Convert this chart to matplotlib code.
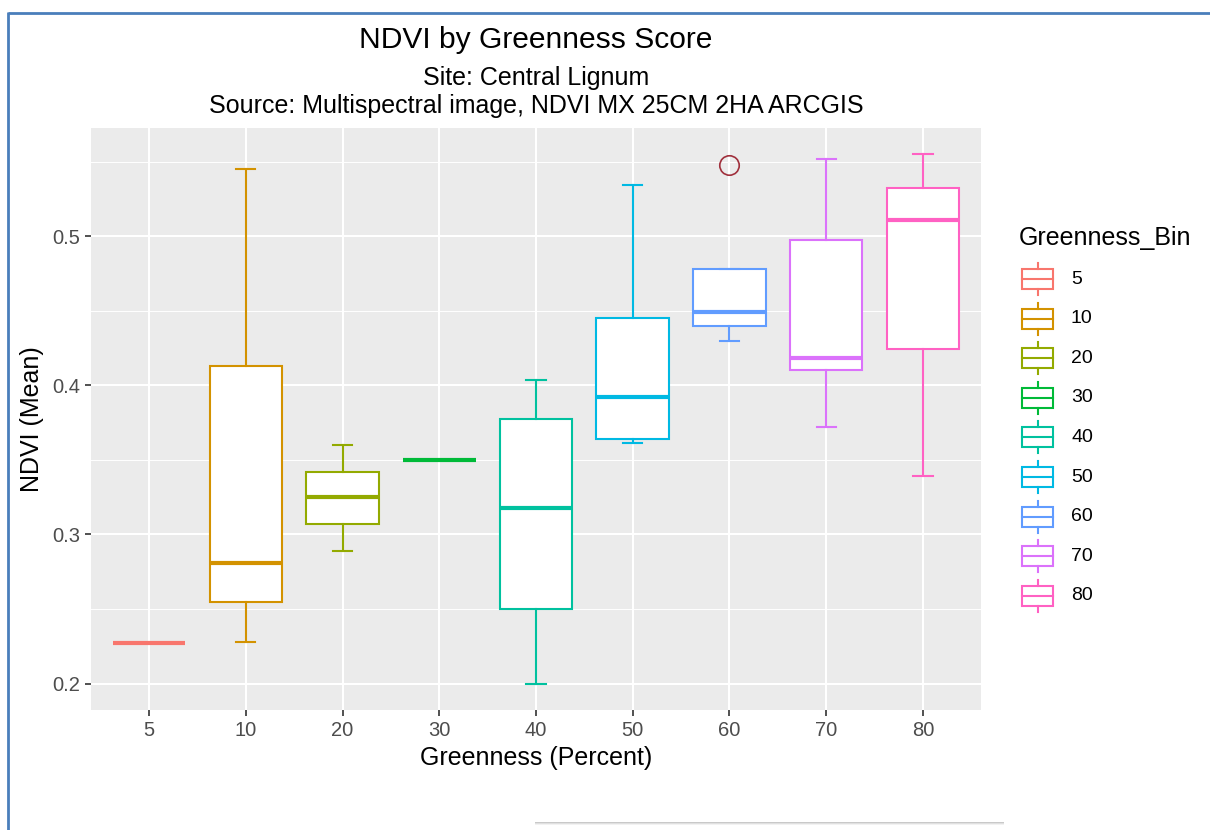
import matplotlib
matplotlib.use("Agg")
import matplotlib.pyplot as plt
import matplotlib.patches as patches

plt.rcParams['font.family'] = ['Liberation Sans', 'DejaVu Sans']

# data
bins = ['5', '10', '20', '30', '40', '50', '60', '70', '80']
whislo = [0.227, 0.228, 0.289, 0.350, 0.200, 0.361, 0.430, 0.372, 0.339]
q1 = [0.227, 0.2545, 0.307, 0.350, 0.250, 0.364, 0.440, 0.410, 0.4246]
med = [0.227, 0.281, 0.325, 0.350, 0.3174, 0.392, 0.449, 0.418, 0.511]
q3 = [0.227, 0.413, 0.342, 0.350, 0.3775, 0.445, 0.478, 0.4976, 0.5324]
whishi = [0.227, 0.545, 0.360, 0.350, 0.4037, 0.534, 0.478, 0.5516, 0.5548]
outliers = [[], [], [], [], [], [], [0.5476], [], []]
colors = ['#F8766D', '#D39200', '#93AA00', '#00BA38', '#00C19F',
          '#00B9E3', '#619CFF', '#DB72FB', '#FF61C3']

W, H = 1210, 830
fig = plt.figure(figsize=(W / 100, H / 100), dpi=100)
fig.patch.set_facecolor('white')

# panel
ax = fig.add_axes([91 / W, 1 - 710 / H, 890 / W, 582 / H])
ax.set_facecolor('#EBEBEB')
for s in ax.spines.values():
    s.set_visible(False)

lo = min(whislo)
hi = max(whishi + [v for o in outliers for v in o])
pad = 0.05 * (hi - lo)
ax.set_ylim(lo - pad, hi + pad)
ax.set_xlim(0.4, len(bins) + 0.6)

ax.set_yticks([0.2, 0.3, 0.4, 0.5])
ax.set_yticklabels(['0.2', '0.3', '0.4', '0.5'])
ax.set_yticks([0.25, 0.35, 0.45, 0.55], minor=True)
ax.grid(True, which='major', color='white', linewidth=1.5, zorder=0)
ax.grid(True, which='minor', axis='y', color='white', linewidth=0.7, zorder=0)
ax.set_axisbelow(True)

pos = list(range(1, len(bins) + 1))
for i, c in enumerate(colors):
    st = [dict(med=med[i], q1=q1[i], q3=q3[i], whislo=whislo[i],
               whishi=whishi[i], fliers=outliers[i])]
    ax.bxp(st, positions=[pos[i]], widths=0.75, patch_artist=True,
           boxprops=dict(facecolor='white', edgecolor=c, linewidth=1.5),
           medianprops=dict(color=c, linewidth=3, solid_capstyle='butt'),
           whiskerprops=dict(color=c, linewidth=1.5),
           capprops=dict(color=c, linewidth=1.5),
           capwidths=0.2,
           flierprops=dict(marker='o', markersize=14, markerfacecolor='none',
                           markeredgecolor='#A0303C', markeredgewidth=1.2),
           manage_ticks=False, zorder=3)

ax.set_xticks(pos)
ax.set_xticklabels(bins)
ax.tick_params(which='major', length=4, width=1.2, color='#333333',
               labelcolor='#4D4D4D', labelsize=14.5, pad=4)
ax.tick_params(which='minor', length=0)

# titles and axis titles
cx = (91 + 981) / 2 / W
fig.text(cx, 1 - 48 / H, 'NDVI by Greenness Score', ha='center', va='baseline',
         fontsize=21.6, color='black')
fig.text(cx, 1 - 85 / H, 'Site: Central Lignum', ha='center', va='baseline',
         fontsize=18, color='black')
fig.text(cx, 1 - 113 / H, 'Source: Multispectral image, NDVI MX 25CM 2HA ARCGIS',
         ha='center', va='baseline', fontsize=18, color='black')
fig.text(cx, 1 - 758 / H, 'Greenness (Percent)', ha='center', va='center',
         fontsize=18, color='black')
fig.text(32 / W, 1 - 419 / H, 'NDVI (Mean)', ha='center', va='center',
         rotation=90, fontsize=18, color='black')

# overlay in pixel space: legend, frame, pasted box
ov = fig.add_axes([0, 0, 1, 1], facecolor='none')
ov.set_xlim(0, W)
ov.set_ylim(H, 0)
ov.axis('off')

ov.text(1019, 245, 'Greenness_Bin', ha='left', va='baseline', fontsize=18)
for i, (b, c) in enumerate(zip(bins, colors)):
    yc = 279 + 39.6 * i
    ov.add_patch(patches.Rectangle((1022, yc - 10), 31, 20, facecolor='white',
                                   edgecolor=c, linewidth=1.5))
    ov.plot([1022, 1053], [yc, yc], color=c, linewidth=1.5)
    ov.plot([1037.5, 1037.5], [yc - 16, yc - 10], color=c, linewidth=1.5)
    ov.plot([1037.5, 1037.5], [yc + 10, yc + 16], color=c, linewidth=1.5)
    ov.text(1071, yc, b, ha='left', va='center', fontsize=14, color='black')

# blue frame
ov.plot([7.5, W], [13, 13], color='#4A7EBB', linewidth=2, solid_capstyle='butt')
ov.plot([7.5, 7.5], [12, H], color='#4A7EBB', linewidth=2, solid_capstyle='butt')

# white box with shadow at the bottom
for k, a in enumerate([0.05, 0.07, 0.1]):
    d = 3 - k
    ov.add_patch(patches.Rectangle((535, 778 + d), 469, 44, facecolor='black',
                                   edgecolor='none', alpha=a))
ov.add_patch(patches.Rectangle((535, 778), 469, 44, facecolor='white',
                               edgecolor='none'))

fig.savefig('out.png', dpi=100)
